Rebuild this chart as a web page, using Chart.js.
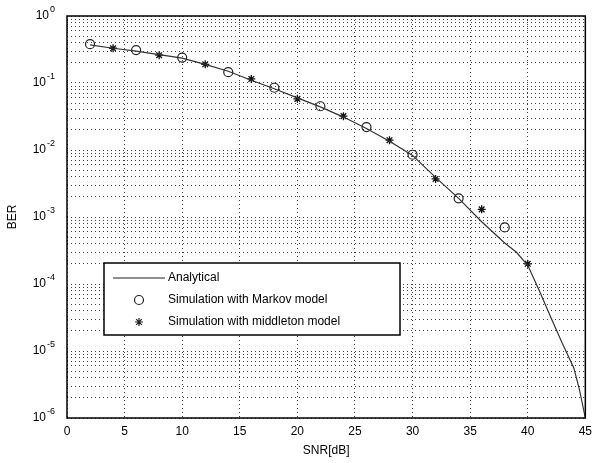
<!DOCTYPE html>
<html>
<head>
<meta charset="utf-8">
<script src="https://cdn.jsdelivr.net/npm/chart.js@4.4.0/dist/chart.umd.min.js"></script>
<style>
  html, body { margin: 0; padding: 0; background: #fff; }
  #wrap { width: 598px; height: 463px; }
</style>
</head>
<body>
<div id="wrap"><canvas id="berChart" width="598" height="463"></canvas></div>
<script>
// values
const analyticalSnr = [2, 4, 6, 8, 10, 12, 14, 16, 18, 20, 22, 24, 26, 28, 30, 32, 34, 36, 38, 39, 40, 41, 42, 43, 44, 44.5, 45];
const analyticalBer = [0.37, 0.33, 0.30, 0.265, 0.235, 0.19, 0.15, 0.11, 0.082, 0.06, 0.044, 0.031, 0.021, 0.0135, 0.0083, 0.0039, 0.0019, 0.00085, 0.00041, 0.0003, 0.00019, 0.00008, 0.000032, 0.000013, 0.0000056, 0.0000026, 0.000001];

const markovSnr = [2, 6, 10, 14, 18, 22, 26, 30, 34, 38];
const markovBer = [0.38, 0.31, 0.24, 0.145, 0.085, 0.045, 0.022, 0.0085, 0.0019, 0.0007];

const middletonSnr = [4, 8, 12, 16, 20, 24, 28, 32, 36, 40];
const middletonBer = [0.33, 0.26, 0.19, 0.115, 0.058, 0.032, 0.014, 0.0037, 0.0013, 0.0002];

const xTicks = [0, 5, 10, 15, 20, 25, 30, 35, 40, 45];
const yExponents = [0, -1, -2, -3, -4, -5, -6];

const FONT = '"Liberation Sans", Arial, sans-serif';

function toPoints(xs, ys) {
  return xs.map((x, i) => ({ x: x, y: ys[i] }));
}

// log ticks 1..9 x 10^n so every minor grid line is drawn
const yTickValues = [];
for (let e = -6; e < 0; e++) {
  for (let m = 1; m <= 9; m++) yTickValues.push(m * Math.pow(10, e));
}
yTickValues.push(1);

// frame, y labels with superscripts, legend box
const decorPlugin = {
  id: 'decor',
  afterDraw(chart) {
    const ctx = chart.ctx;
    const a = chart.chartArea;
    const ys = chart.scales.y;
    ctx.save();
    ctx.strokeStyle = '#000';
    ctx.lineWidth = 1.5;
    ctx.strokeRect(a.left, a.top, a.right - a.left, a.bottom - a.top);

    // y tick labels 10^n
    ctx.fillStyle = '#000';
    ctx.textBaseline = 'middle';
    yExponents.forEach(e => {
      const py = ys.getPixelForValue(Math.pow(10, e));
      const sup = String(e);
      ctx.font = '9px ' + FONT;
      const supW = ctx.measureText(sup).width;
      const xr = a.left - 14;
      ctx.textAlign = 'left';
      ctx.fillText(sup, xr - supW + 2, py - 6);
      ctx.font = '12px ' + FONT;
      ctx.textAlign = 'right';
      ctx.fillText('10', xr - supW + 1, py);
    });

    // legend
    const lx = a.left + 37, ly = a.top + 247, lw = 296, lh = 72;
    ctx.fillStyle = '#fff';
    ctx.fillRect(lx, ly, lw, lh);
    ctx.strokeStyle = '#000';
    ctx.lineWidth = 1.5;
    ctx.strokeRect(lx, ly, lw, lh);

    ctx.font = '12px ' + FONT;
    ctx.textAlign = 'left';
    ctx.fillStyle = '#000';
    const rows = [ly + 15, ly + 37, ly + 59];
    const textX = lx + 64;
    const symX = lx + 35;

    ctx.strokeStyle = '#222';
    ctx.lineWidth = 1.2;
    ctx.beginPath();
    ctx.moveTo(lx + 9, rows[0]);
    ctx.lineTo(lx + 61, rows[0]);
    ctx.stroke();
    ctx.fillText('Analytical', textX, rows[0]);

    ctx.beginPath();
    ctx.arc(symX, rows[1], 4.5, 0, Math.PI * 2);
    ctx.stroke();
    ctx.fillText('Simulation with Markov model', textX, rows[1]);

    const r = 4;
    ctx.beginPath();
    ctx.moveTo(symX - r, rows[2]); ctx.lineTo(symX + r, rows[2]);
    ctx.moveTo(symX, rows[2] - r); ctx.lineTo(symX, rows[2] + r);
    const d = r * 0.707;
    ctx.moveTo(symX - d, rows[2] - d); ctx.lineTo(symX + d, rows[2] + d);
    ctx.moveTo(symX - d, rows[2] + d); ctx.lineTo(symX + d, rows[2] - d);
    ctx.stroke();
    ctx.fillText('Simulation with middleton model', textX, rows[2]);
    ctx.restore();
  }
};

const berCtx = document.getElementById('berChart').getContext('2d');
const berChart = new Chart(berCtx, {
  type: 'scatter',
  data: {
    datasets: [
      {
        label: 'Analytical',
        data: toPoints(analyticalSnr, analyticalBer),
        showLine: true,
        borderColor: '#333',
        borderWidth: 1.2,
        pointRadius: 0,
        tension: 0
      },
      {
        label: 'Simulation with Markov model',
        data: toPoints(markovSnr, markovBer),
        showLine: false,
        pointStyle: 'circle',
        pointRadius: 4.5,
        pointBorderWidth: 1.2,
        borderColor: '#222',
        backgroundColor: 'rgba(0,0,0,0)'
      },
      {
        label: 'Simulation with middleton model',
        data: toPoints(middletonSnr, middletonBer),
        showLine: false,
        pointStyle: 'star',
        pointRadius: 4,
        pointBorderWidth: 1.3,
        borderColor: '#111',
        backgroundColor: '#111'
      }
    ]
  },
  options: {
    responsive: false,
    animation: false,
    layout: { padding: { top: 16, right: 10, left: 0, bottom: 0 } },
    plugins: {
      legend: { display: false },
      tooltip: { enabled: false }
    },
    scales: {
      x: {
        type: 'linear',
        min: 0,
        max: 45,
        afterFit(scale) { scale.height = 45; },
        afterBuildTicks(scale) { scale.ticks = xTicks.map(v => ({ value: v })); },
        ticks: {
          color: '#000',
          font: { family: FONT, size: 12 },
          padding: 6
        },
        grid: { color: 'rgba(0,0,0,0.75)', lineWidth: 1, drawTicks: false },
        border: { display: false, dash: [1, 3] },
        title: {
          display: true,
          text: 'SNR[dB]',
          color: '#000',
          font: { family: FONT, size: 12 },
          padding: { top: 0, bottom: 5 }
        }
      },
      y: {
        type: 'logarithmic',
        min: 1e-6,
        max: 1,
        afterFit(scale) { scale.width = 67; },
        afterBuildTicks(scale) { scale.ticks = yTickValues.map(v => ({ value: v })); },
        ticks: { display: false, autoSkip: false },
        grid: { color: 'rgba(0,0,0,0.75)', lineWidth: 1, drawTicks: false },
        border: { display: false, dash: [1, 3] },
        title: {
          display: true,
          text: 'BER',
          color: '#000',
          font: { family: FONT, size: 12 },
          padding: { top: 5, bottom: 0 }
        }
      }
    }
  },
  plugins: [decorPlugin]
});
</script>
</body>
</html>
